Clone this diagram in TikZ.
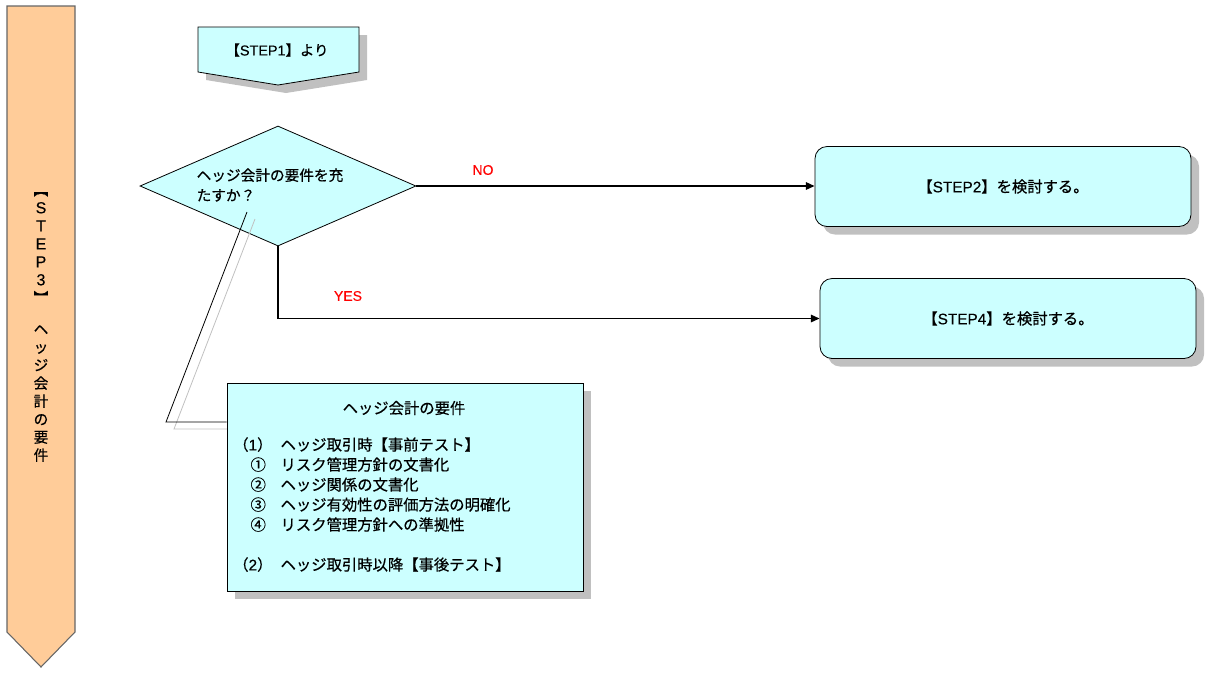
\documentclass[tikz,border=0pt]{standalone}
\usepackage{fontspec}
\setmainfont{Noto Sans CJK JP}[FakeBold=0.6]
\newfontfamily\latinfont{Liberation Sans}[FakeBold=0.3]
\usetikzlibrary{positioning, shapes.geometric, shadows, arrows.meta, calc}
\definecolor{boxcyan}{HTML}{CCFFFF}
\definecolor{bannerpeach}{HTML}{FFCC99}
\definecolor{shadowgray}{HTML}{C0C0C0}
\newcommand{\lat}[1]{{\latinfont #1}}
\tikzset{
  softshadow/.style={drop shadow={shadow xshift=6pt, shadow yshift=-6pt, fill=shadowgray, opacity=1}},
  stepbox/.style={draw, line width=0.6pt, fill=boxcyan, rounded corners=9pt, minimum width=282pt, minimum height=60pt, softshadow, font=\fontsize{11.5pt}{14pt}\selectfont},
  reqbox/.style={draw, line width=0.6pt, fill=boxcyan, minimum width=267pt, minimum height=156pt, softshadow},
  decision/.style={draw, line width=0.6pt, fill=boxcyan, diamond, aspect=2.3, minimum width=207pt, minimum height=90pt, inner sep=0pt},
  flow/.style={line width=1.4pt, -{Triangle[length=6.5pt,width=5.5pt]}},
  answer/.style={text=red, font=\fontsize{10.5pt}{12pt}\selectfont},
  bannertext/.style={align=center, inner sep=0pt, font=\fontsize{11pt}{13.5pt}\selectfont},
  plaintext/.style={inner sep=0pt, font=\fontsize{11pt}{15pt}\selectfont},
}
\begin{document}
\begin{tikzpicture}[x=0.75pt, y=-0.75pt]
  \useasboundingbox (0,0) rectangle (1208,676);

  \filldraw[fill=bannerpeach, draw=black!60, line width=0.8pt] (7,6) -- (75,6) -- (75,632) -- (41,667) -- (7,632) -- cycle;
  \node[bannertext] (banner) at (41,327) {︻\\\lat{\large S}\\\lat{\large T}\\\lat{\large E}\\\lat{\large P}\\\lat{\large 3}\\︼\\[10pt]ヘ\\ッ\\ジ\\会\\計\\の\\要\\件};

  \filldraw[fill=boxcyan, softshadow, line width=0.6pt] (198,27) -- (359,27) -- (359,72) -- (278,85) -- (198,72) -- cycle;
  \node[plaintext, font=\fontsize{10.8pt}{13pt}\selectfont] (step1) at (277,50) {【\lat{STEP1}】より};

  \node[decision] (cond) at (278,186) {};
  \node[plaintext, align=left] (condlabel) at (270,185) {ヘッジ会計の要件を充\\たすか？};

  \coordinate (calltip) at (247,212);
  \coordinate (callknee) at (166,422);
  \draw[shadowgray, line width=0.6pt] ($(calltip)+(8,7)$) -- ($(callknee)+(8,7)$) -- ++(55,0);

  \node[reqbox] (req) at (405,487) {};
  \draw[line width=0.6pt] (calltip) -- (callknee) -- (callknee -| req.west);
  \node[plaintext, font=\fontsize{11.5pt}{15pt}\selectfont] (reqhead) at (404,408) {ヘッジ会計の要件};
  \node[plaintext, align=left, anchor=north west, font=\fontsize{11.5pt}{15pt}\selectfont] (reqitems) at (233,437) {%
    \makebox[35.5pt][l]{（\lat{1}）}ヘッジ取引時【事前テスト】\\
    \hspace*{13pt}\makebox[22.5pt][l]{①}リスク管理方針の文書化\\
    \hspace*{13pt}\makebox[22.5pt][l]{②}ヘッジ関係の文書化\\
    \hspace*{13pt}\makebox[22.5pt][l]{③}ヘッジ有効性の評価方法の明確化\\
    \hspace*{13pt}\makebox[22.5pt][l]{④}リスク管理方針への準拠性\\[15pt]
    \makebox[35.5pt][l]{（\lat{2}）}ヘッジ取引時以降【事後テスト】};

  \node[stepbox] (step2) at (1003,186.5) {【\lat{STEP2}】を検討する。};
  \node[stepbox] (step4) at (1008,318.5) {【\lat{STEP4}】を検討する。};

  \draw[flow] (cond.east) -- (cond.east -| step2.west);
  \draw[flow] (cond.south) |- (step4.west);
  \node[answer] (nolabel) at (483,170) {\lat{NO}};
  \node[answer] (yeslabel) at (348,296) {\lat{YES}};
\end{tikzpicture}
\end{document}
